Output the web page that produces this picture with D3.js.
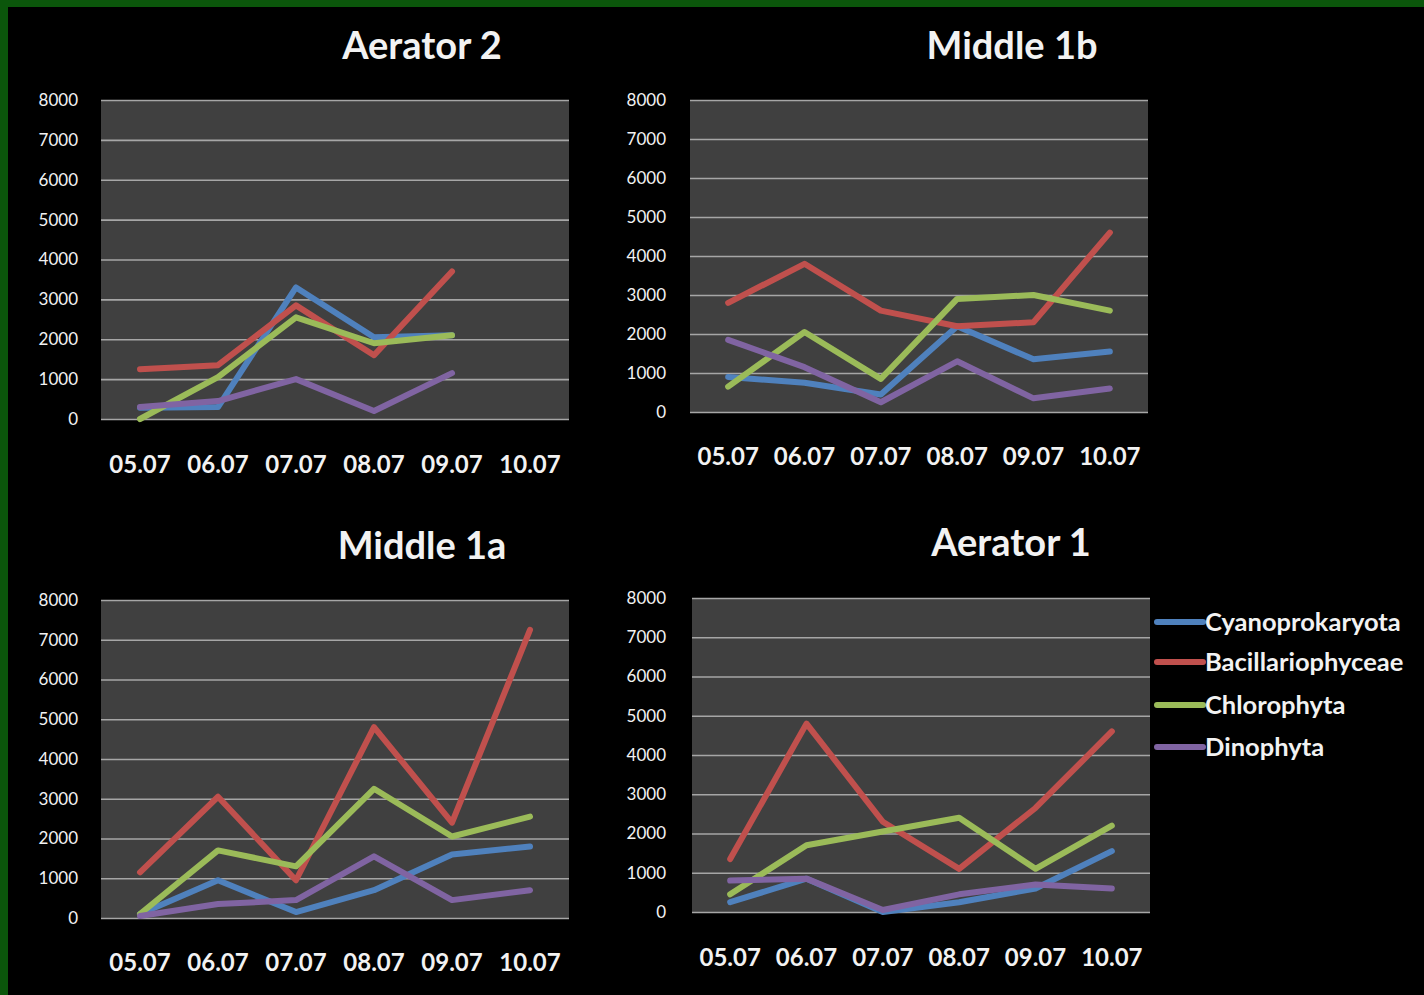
<!DOCTYPE html>
<html>
<head>
<meta charset="utf-8">
<script src="https://cdn.jsdelivr.net/npm/d3@7/dist/d3.min.js"></script>
<style>
  html, body { margin: 0; padding: 0; background: #000; }
  svg { display: block; }
  text { font-family: Lato, "Open Sans", sans-serif; fill: #f2f2f2; }
</style>
</head>
<body>
<svg id="chart" width="1424" height="995"></svg>
<script>
// ---- data ----
const dates = ["05.07", "06.07", "07.07", "08.07", "09.07", "10.07"];
const seriesNames = ["Cyanoprokaryota", "Bacillariophyceae", "Chlorophyta", "Dinophyta"];
const seriesColors = ["#4f81bd", "#c0504d", "#9bbb59", "#8064a2"];
const yTicks = [0, 1000, 2000, 3000, 4000, 5000, 6000, 7000, 8000];

const panelTitles = ["Aerator 2", "Middle 1b", "Middle 1a", "Aerator 1"];

// values per panel, per series (null = no data)
const aerator2Cyano = [280, 300, 3300, 2050, 2100, null];
const aerator2Bacil = [1250, 1350, 2850, 1600, 3700, null];
const aerator2Chloro = [0, 1050, 2550, 1900, 2100, null];
const aerator2Dino = [300, 450, 1000, 200, 1150, null];

const middle1bCyano = [900, 750, 450, 2200, 1350, 1550];
const middle1bBacil = [2800, 3800, 2600, 2200, 2300, 4600];
const middle1bChloro = [650, 2050, 850, 2900, 3000, 2600];
const middle1bDino = [1850, 1150, 250, 1300, 350, 600];

const middle1aCyano = [100, 950, 150, 700, 1600, 1800];
const middle1aBacil = [1150, 3050, 950, 4800, 2400, 7250];
const middle1aChloro = [100, 1700, 1300, 3250, 2050, 2550];
const middle1aDino = [50, 350, 450, 1550, 450, 700];

const aerator1Cyano = [250, 850, 0, 250, 600, 1550];
const aerator1Bacil = [1350, 4800, 2300, 1100, 2650, 4600];
const aerator1Chloro = [450, 1700, 2050, 2400, 1100, 2200];
const aerator1Dino = [800, 850, 50, 450, 700, 600];

const panelData = [
  [aerator2Cyano, aerator2Bacil, aerator2Chloro, aerator2Dino],
  [middle1bCyano, middle1bBacil, middle1bChloro, middle1bDino],
  [middle1aCyano, middle1aBacil, middle1aChloro, middle1aDino],
  [aerator1Cyano, aerator1Bacil, aerator1Chloro, aerator1Dino]
];

// ---- layout ----
const layouts = [
  { x0: 101, x1: 569, y0: 100, y1: 419, titleX: 422, titleY: 59, labelX: 78, xLabY: 473 },
  { x0: 690, x1: 1148, y0: 100, y1: 412, titleX: 1012, titleY: 59, labelX: 666, xLabY: 465 },
  { x0: 101, x1: 569, y0: 600, y1: 918, titleX: 422, titleY: 559, labelX: 78, xLabY: 971 },
  { x0: 692, x1: 1150, y0: 598, y1: 912, titleX: 1011, titleY: 556, labelX: 666, xLabY: 966 }
];

const svg = d3.select("#chart");
svg.append("rect").attr("width", 1424).attr("height", 995).attr("fill", "#000");
// green frame strips
svg.append("rect").attr("x", 0).attr("y", 0).attr("width", 1424).attr("height", 7).attr("fill", "#0b560b");
svg.append("rect").attr("x", 0).attr("y", 0).attr("width", 8).attr("height", 995).attr("fill", "#0b560b");

panelData.forEach((series, pi) => {
  const L = layouts[pi];
  const g = svg.append("g");
  const x = d3.scaleBand().domain(dates).range([L.x0, L.x1]);
  const y = d3.scaleLinear().domain([0, 8000]).range([L.y1, L.y0]);

  g.append("rect").attr("x", L.x0).attr("y", L.y0)
    .attr("width", L.x1 - L.x0).attr("height", L.y1 - L.y0)
    .attr("fill", "#404040");

  // gridlines + y labels via axis
  const yAxis = d3.axisLeft(y).tickValues(yTicks).tickSize(-(L.x1 - L.x0)).tickPadding(L.x0 - L.labelX).tickFormat(d3.format("d"));
  const ya = g.append("g").attr("transform", `translate(${L.x0},0)`).call(yAxis);
  ya.select(".domain").remove();
  ya.selectAll(".tick line").attr("stroke", "#a6a6a6").attr("stroke-width", 1.6);
  ya.selectAll(".tick text").attr("fill", "#f0f0f0").style("font-size", "17px").style("font-family", "Lato, sans-serif");

  // x labels
  const xAxis = d3.axisBottom(x).tickSize(0).tickPadding(0);
  const xa = g.append("g").attr("transform", `translate(0,${L.xLabY})`).call(xAxis);
  xa.select(".domain").remove();
  xa.selectAll(".tick text").attr("fill", "#f0f0f0").attr("dy", 0)
    .style("font-size", "24px").style("font-weight", "700").style("font-family", "Lato, sans-serif");

  // title
  g.append("text").attr("x", L.titleX).attr("y", L.titleY)
    .attr("text-anchor", "middle").style("font-size", "38px").style("font-weight", "700")
    .text(panelTitles[pi]);

  // lines
  const line = d3.line()
    .defined(d => d.v !== null)
    .x(d => x(d.k) + x.bandwidth() / 2)
    .y(d => y(d.v));
  series.forEach((vals, si) => {
    const pts = dates.map((k, i) => ({ k, v: vals[i] }));
    g.append("path").datum(pts).attr("d", line)
      .attr("fill", "none").attr("stroke", seriesColors[si])
      .attr("stroke-width", 6).attr("stroke-linejoin", "round").attr("stroke-linecap", "round");
  });
});

// legend
const legendY = [622, 662, 705, 747];
const lg = svg.append("g");
seriesNames.forEach((name, i) => {
  lg.append("line").attr("x1", 1157).attr("x2", 1203).attr("y1", legendY[i]).attr("y2", legendY[i])
    .attr("stroke", seriesColors[i]).attr("stroke-width", 6).attr("stroke-linecap", "round");
  lg.append("text").attr("x", 1205).attr("y", legendY[i]).attr("dy", "0.36em")
    .style("font-size", "25.5px").style("font-weight", "700").text(name);
});
</script>
</body>
</html>
